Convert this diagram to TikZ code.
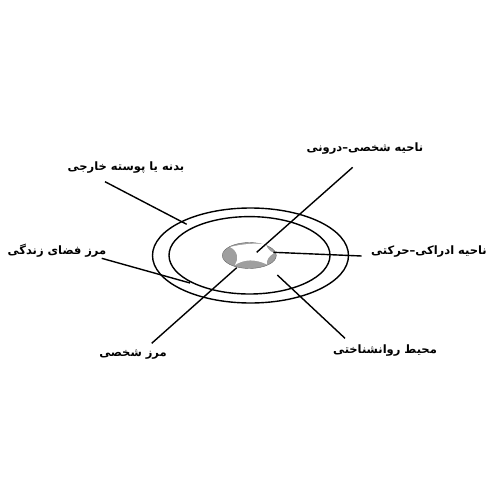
\documentclass[tikz,border=0pt]{standalone}
\usepackage{fontspec}
\newfontfamily\fafont[Script=Arabic]{DejaVu Sans}
\TeXXeTstate=1
\usepackage{tikz}
\usetikzlibrary{positioning}

\tikzset{
    label/.style={font=\fafont\bfseries\fontsize{11.5}{13}\selectfont, inner sep=0pt},
    ring/.style={line width=1.4pt},
    pointer/.style={line width=1.4pt}
}

\begin{document}
\begin{tikzpicture}[x=1pt, y=-1pt]
    \useasboundingbox (0,0) rectangle (500,500);

    \draw[ring] (250.5,255.5) ellipse [x radius=98, y radius=47.5];
    \draw[ring] (249.5,255.3) ellipse [x radius=80.5, y radius=38.7];
    \filldraw[fill=gray!75, draw=gray!80!black, line width=0.4pt] (249.3,255.5) ellipse [x radius=27, y radius=13];
    \fill[white] (230,247) .. controls (242,244) and (255,243) .. (266,244) .. controls (267,248) and (269,251) .. (274,253) .. controls (269,256) and (266,260) .. (267,264.5) .. controls (256,259) and (244,259) .. (235,265) .. controls (239,259) and (238,251) .. (230,247) -- cycle;

    \node[label] (body) at (126,168) {\beginR بدنه یا پوسته خارجی\endR};
    \node[label] (life) at (57,251) {\beginR مرز فضای زندگی\endR};
    \node[label] (inner) at (365,149) {\beginR ناحیه شخصی–درونی\endR};
    \node[label] (motor) at (429,252) {\beginR ناحیه ادراکی–حرکتی\endR};
    \node[label] (pers) at (133,355) {\beginR مرز شخصی\endR};
    \node[label] (env) at (385,351) {\beginR محیط روانشناختی\endR};

    \coordinate (body1) at (105,181.7);
    \coordinate (body2) at (186.7,224.3);
    \coordinate (life1) at (101.7,258.3);
    \coordinate (life2) at (190,283);
    \coordinate (inner1) at (352.7,167.3);
    \coordinate (inner2) at (256.7,252.3);
    \coordinate (motor1) at (361.7,256);
    \coordinate (motor2) at (273.3,252.3);
    \coordinate (pers1) at (151.7,343.3);
    \coordinate (pers2) at (236.7,267.7);
    \coordinate (env1) at (345,338.3);
    \coordinate (env2) at (277.3,275);

    \path [pointer] (body1) edge (body2);
    \path [pointer] (life1) edge (life2);
    \path [pointer] (inner1) edge (inner2);
    \path [pointer] (motor1) edge (motor2);
    \path [pointer] (pers1) edge (pers2);
    \path [pointer] (env1) edge (env2);
\end{tikzpicture}
\end{document}
